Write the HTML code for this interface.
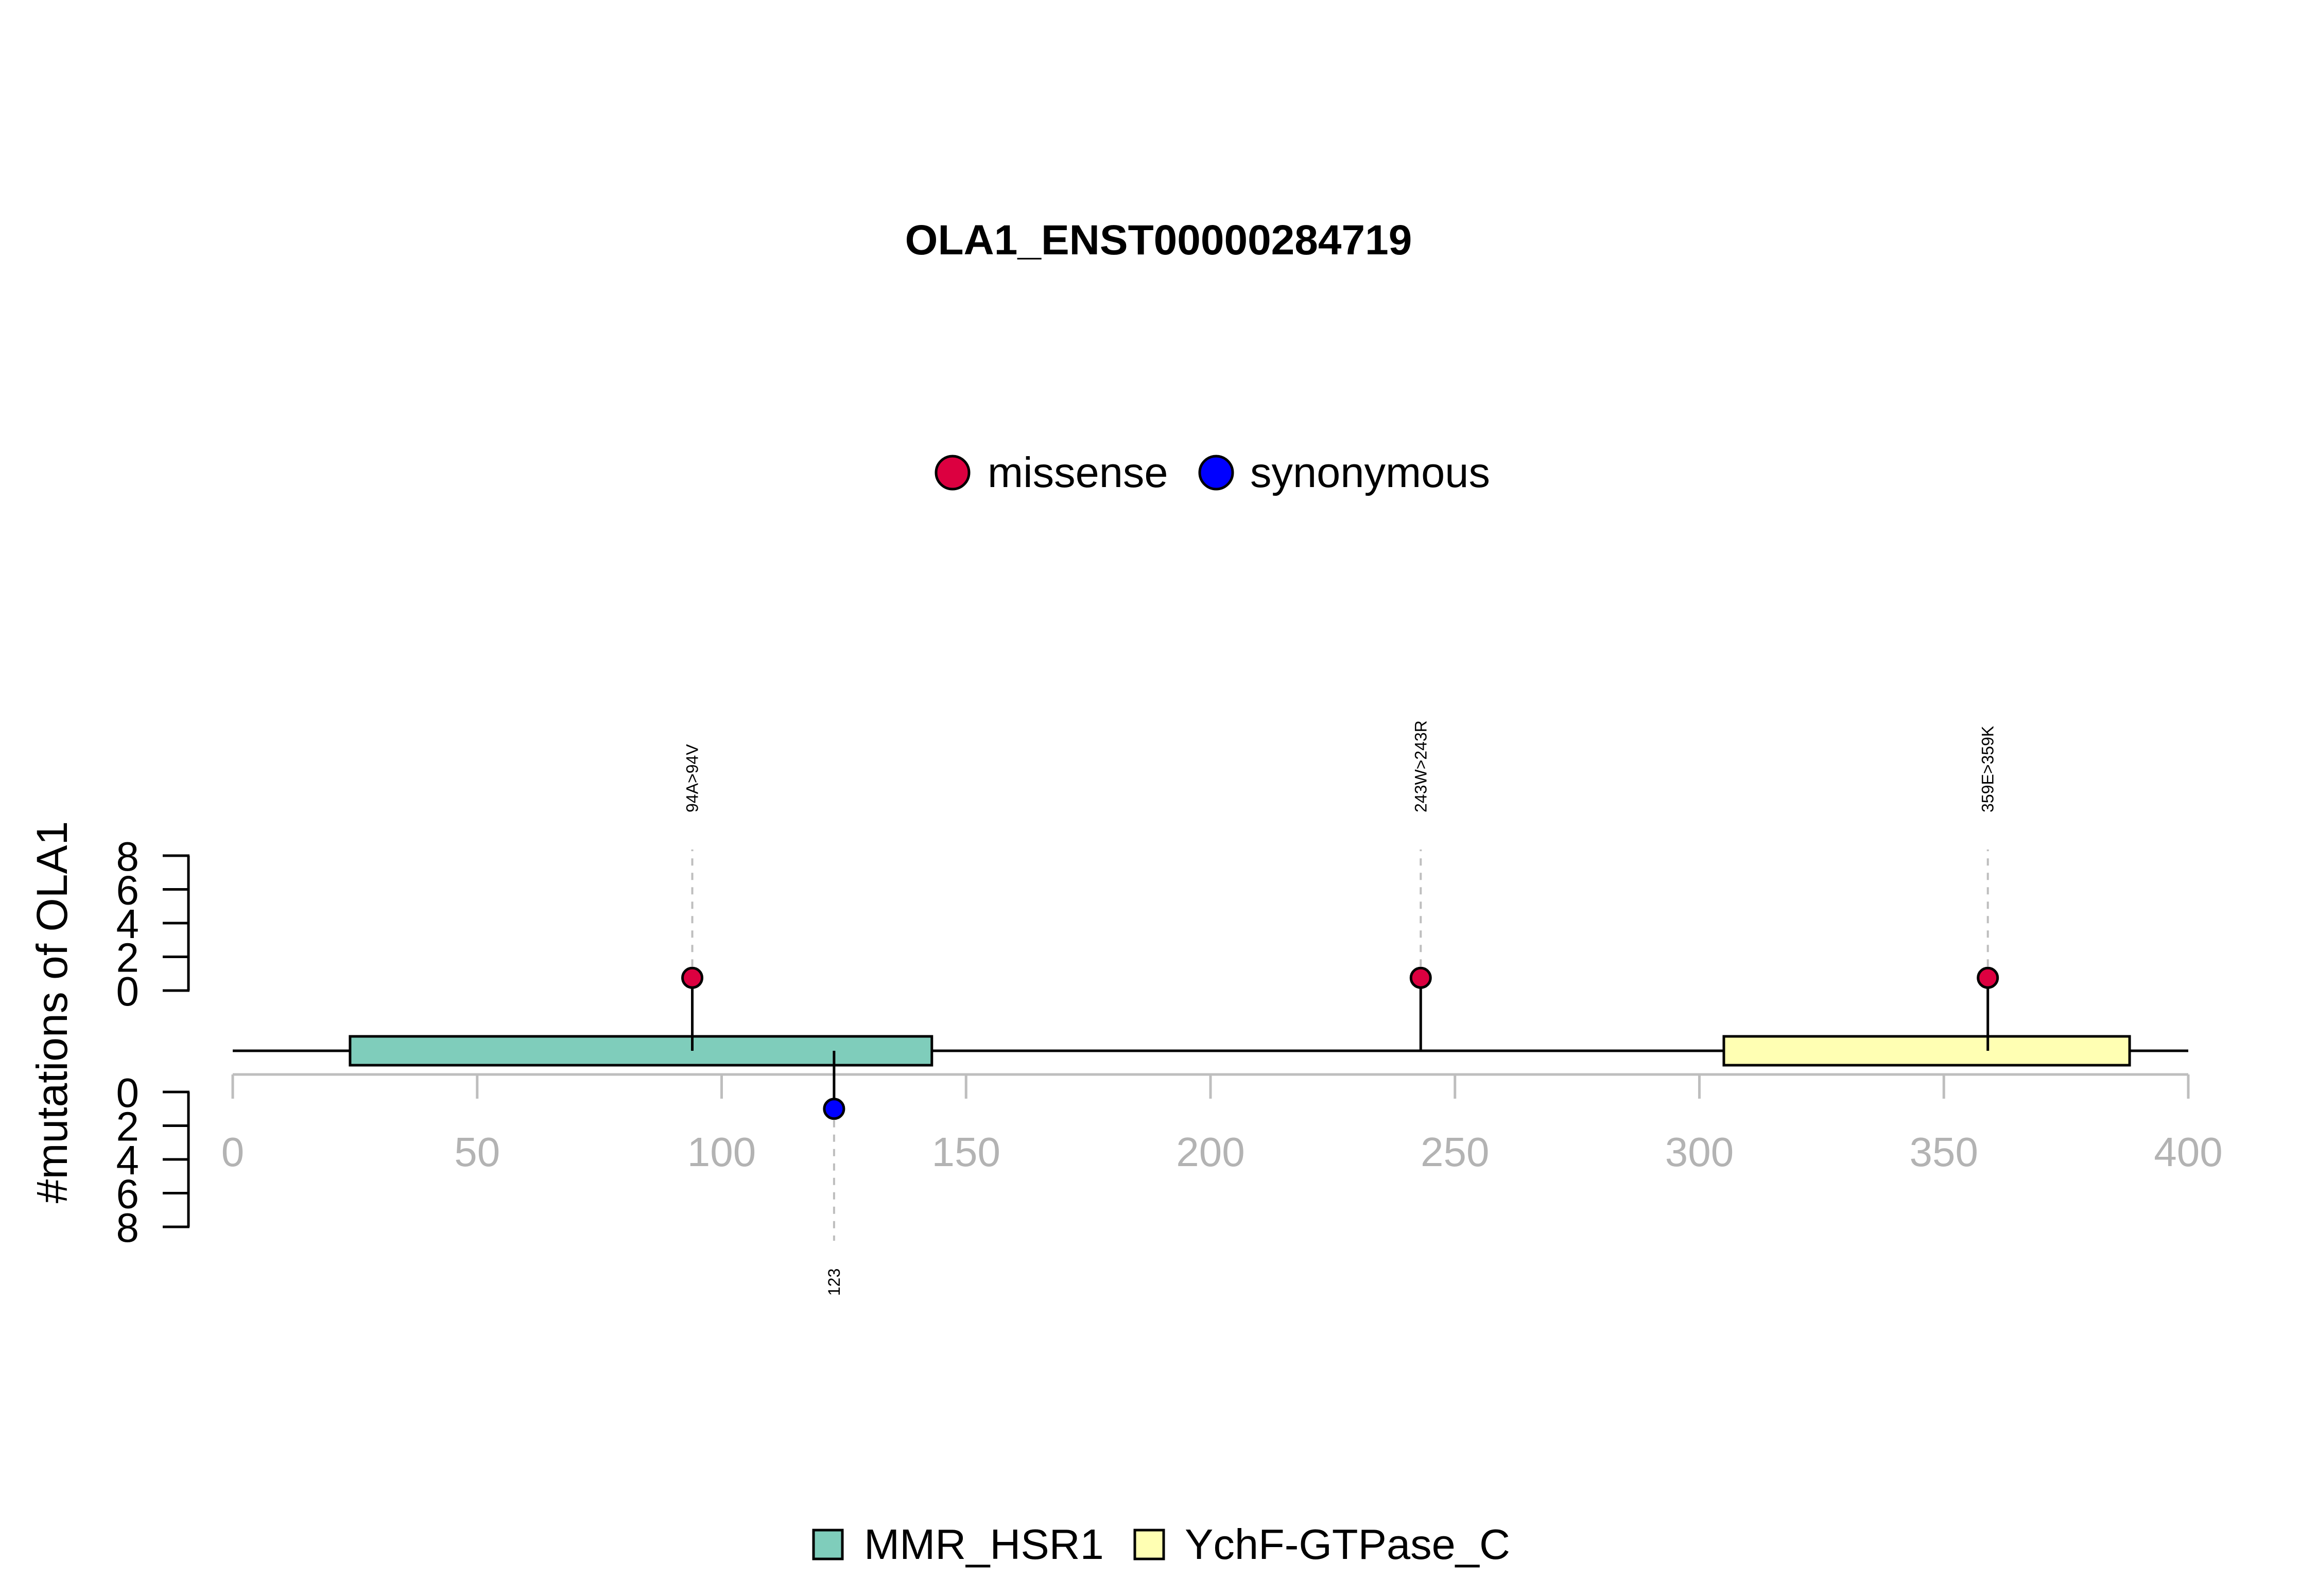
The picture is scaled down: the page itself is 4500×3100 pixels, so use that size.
<!DOCTYPE html>
<html><head><meta charset="utf-8"><style>html,body{margin:0;padding:0;background:#fff}svg{display:block}text{font-family:"Liberation Sans",sans-serif}</style></head>
<body>
<svg id="chart" width="4500" height="3100" viewBox="0 0 4500 3100" xmlns="http://www.w3.org/2000/svg">
<rect width="4500" height="3100" fill="#fff"/>
<text x="2250" y="494" text-anchor="middle" font-size="82" font-weight="bold">OLA1_ENST00000284719</text>
<g>
 <g><circle cx="1850" cy="918" r="32" fill="#DC0040" stroke="#000" stroke-width="5"/><text x="1918" y="946" font-size="83">missense</text></g>
 <g><circle cx="2362" cy="918" r="32" fill="#0000FF" stroke="#000" stroke-width="5"/><text x="2428" y="946" font-size="83">synonymous</text></g>
</g>
<text transform="translate(130,1966) rotate(-90)" text-anchor="middle" font-size="84">#mutations of OLA1</text>
<g id="plot"></g>
<g>
 <g><rect x="1580" y="2972" width="56" height="56" fill="#7FCDBB" stroke="#000" stroke-width="5"/><text x="1678" y="3028" font-size="83">MMR_HSR1</text></g>
 <g><rect x="2204" y="2972" width="56" height="56" fill="#FFFFB3" stroke="#000" stroke-width="5"/><text x="2301" y="3028" font-size="83">YchF-GTPase_C</text></g>
</g>
</svg>
<script>
const xTicks=[0,50,100,150,200,250,300,350,400];
const yTicks=[0,2,4,6,8];
const domainNames=["MMR_HSR1","YchF-GTPase_C"];
const domainStart=[24,305];
const domainEnd=[143,388];
const domainColors=["#7FCDBB","#FFFFB3"];
const mutPos=[94,243,359,123];
const mutCount=[1,1,1,1];
const mutType=["missense","missense","missense","synonymous"];
const mutLabel=["94A>94V","243W>243R","359E>359K","123"];
const proteinLength=400;

const NS="http://www.w3.org/2000/svg";
const g=document.getElementById('plot');
function X(v){return 452+v*(4250-452)/400;}
function Yup(v){return 1924-v*(1924-1662)/8;}
function Ydn(v){return 2121+v*(2383-2121)/8;}
function mk(t,a,parent){const e=document.createElementNS(NS,t);for(const k in a)e.setAttribute(k,a[k]);(parent||g).appendChild(e);return e;}
const BB=2041;
let ax=mk('line',{x1:X(0),x2:X(400),y1:2087,y2:2087,stroke:'#BEBEBE','stroke-width':5});


xTicks.forEach(t=>{
 let l=mk('line',{x1:X(t),x2:X(t),y1:2087,y2:2134,stroke:'#BEBEBE','stroke-width':5});
 
 
 let tx=mk('text',{x:X(t),y:2265,'text-anchor':'middle','font-size':80,fill:'#B3B3B3'});
 tx.textContent=t;
 
 
});
[[Yup,'upper'],[Ydn,'lower']].forEach(([Y,n])=>{
 let l=mk('line',{x1:366,x2:366,y1:Y(0),y2:Y(8),stroke:'#000','stroke-width':5});
 
 
 yTicks.forEach(t=>{
  let tk=mk('line',{x1:316,x2:368,y1:Y(t),y2:Y(t),stroke:'#000','stroke-width':5});
  
  
  let tx=mk('text',{x:270,y:Y(t)+29,'text-anchor':'end','font-size':80});
  tx.textContent=t;
  
  
 });
});
let bb=mk('line',{x1:X(0),x2:X(proteinLength),y1:BB,y2:BB,stroke:'#000','stroke-width':5});


domainNames.forEach((d,i)=>{
 let r=mk('rect',{x:X(domainStart[i]),y:2013,width:X(domainEnd[i])-X(domainStart[i]),height:56,fill:domainColors[i],stroke:'#000','stroke-width':5});
 
 
});
mutPos.forEach((p,i)=>{
 const up=mutType[i]==='missense';
 const x=X(p);
 const y=up?Yup(mutCount[i])+8:Ydn(mutCount[i]);
 const dashEnd=up?1650:2410;
 let dl=mk('line',{x1:x,x2:x,y1:y+(up?-22:22),y2:dashEnd,stroke:'#BEBEBE','stroke-width':4,'stroke-dasharray':'14,14'});
 
 
 let st=mk('line',{x1:x,x2:x,y1:BB,y2:y,stroke:'#000','stroke-width':5});
 
 
 let c=mk('circle',{cx:x,cy:y,r:19,fill:up?'#DC0040':'#0000FF',stroke:'#000','stroke-width':5});
 
 
 const ly=up?1578:2517;
 let t=mk('text',{transform:`translate(${x+11},${ly}) rotate(-90)`,'font-size':32});
 t.textContent=mutLabel[i];
 
 
});
</script>
</body></html>
